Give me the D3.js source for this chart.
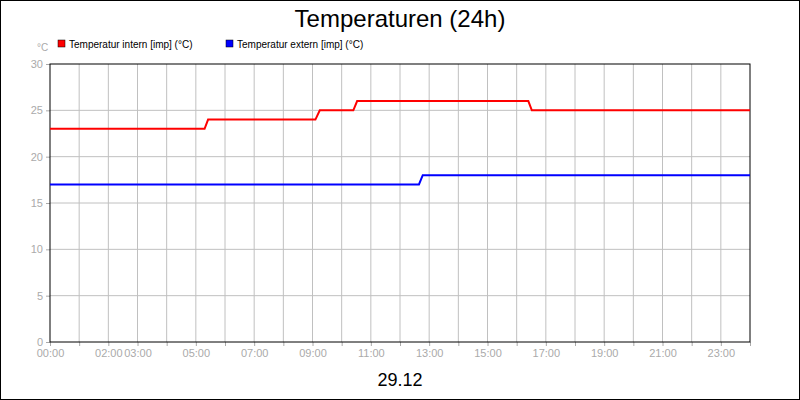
<!DOCTYPE html>
<html><head><meta charset="utf-8">
<script src="https://cdn.jsdelivr.net/npm/d3@7"></script>
<style>body{margin:0}svg{display:block;font-family:"Liberation Sans",Arial,sans-serif}</style>
</head><body><svg width="800" height="400"></svg>
<script>
// hours (0-24) and degrees
const internTimes = [0, 5.3, 5.42, 9.1, 9.25, 10.4, 10.53, 16.4, 16.52, 24]
const internValues = [23, 23, 24, 24, 25, 25, 26, 26, 25, 25]
const externTimes = [0, 12.65, 12.78, 24]
const externValues = [17, 17, 18, 18]
const yTicks = [0, 5, 10, 15, 20, 25, 30]
const xLabelHours = [0, 2, 3, 5, 7, 9, 11, 13, 15, 17, 19, 21, 23]
const series = [
  {name: 'Temperatur intern [imp] (°C)', color: '#ff0000', t: internTimes, v: internValues},
  {name: 'Temperatur extern [imp] (°C)', color: '#0000ff', t: externTimes, v: externValues}
]

const svg = d3.select('svg')
const m = {l: 50, r: 750, t: 64, b: 342}
const x = d3.scaleLinear().domain([0, 24]).range([m.l, m.r])
const y = d3.scaleLinear().domain([0, 30]).range([m.b, m.t])

svg.append('rect').attr('x', 0.5).attr('y', 0.5).attr('width', 799).attr('height', 399)
  .attr('fill', '#fff').attr('stroke', '#000')

svg.append('text').attr('x', 400).attr('y', 27).attr('text-anchor', 'middle')
  .attr('font-size', 24).text('Temperaturen (24h)')

// grid
svg.append('g').selectAll('line').data(d3.range(1, 24)).enter().append('line')
  .attr('x1', d => x(d)).attr('x2', d => x(d)).attr('y1', m.t).attr('y2', m.b)
  .attr('stroke', '#c0c0c0')
svg.append('g').selectAll('line').data(yTicks.slice(1, -1)).enter().append('line')
  .attr('x1', m.l).attr('x2', m.r).attr('y1', d => y(d)).attr('y2', d => y(d))
  .attr('stroke', '#c0c0c0')

const xAxis = svg.append('g').attr('transform', `translate(0,${m.b})`)
  .call(d3.axisBottom(x).tickValues(d3.range(0, 25)).tickSize(4).tickPadding(3)
    .tickFormat(d => xLabelHours.includes(d) ? String(d).padStart(2, '0') + ':00' : ''))
const yAxis = svg.append('g').attr('transform', `translate(${m.l},0)`)
  .call(d3.axisLeft(y).tickValues(yTicks).tickSize(4).tickPadding(3))
for (const a of [xAxis, yAxis]) {
  a.select('.domain').remove()
  a.selectAll('line').attr('stroke', '#aaa')
  a.selectAll('text').attr('fill', '#aaa').attr('font-size', 11).attr('font-family', '"Liberation Sans",Arial,sans-serif')
}

svg.append('rect').attr('x', m.l).attr('y', m.t).attr('width', m.r - m.l).attr('height', m.b - m.t)
  .attr('fill', 'none').attr('stroke', '#000')

const line = d3.line().x(d => x(d[0])).y(d => y(d[1]))
series.forEach(s => {
  svg.append('path').datum(d3.zip(s.t, s.v)).attr('d', line)
    .attr('fill', 'none').attr('stroke', s.color).attr('stroke-width', 2)
})

svg.append('text').attr('x', 37).attr('y', 51).attr('fill', '#aaa').attr('font-size', 10).text('°C')
const lg = svg.append('g').selectAll('g').data(series).enter().append('g')
  .attr('transform', (d, i) => `translate(${58 + i * 168},40)`)
lg.append('rect').attr('width', 7).attr('height', 7).attr('fill', d => d.color).attr('stroke', '#000').attr('stroke-width', 0.5)
lg.append('text').attr('x', 11).attr('y', 7.5).attr('font-size', 10).text(d => d.name)

svg.append('text').attr('x', 400).attr('y', 386).attr('text-anchor', 'middle')
  .attr('font-size', 18).text('29.12')
</script></body></html>
